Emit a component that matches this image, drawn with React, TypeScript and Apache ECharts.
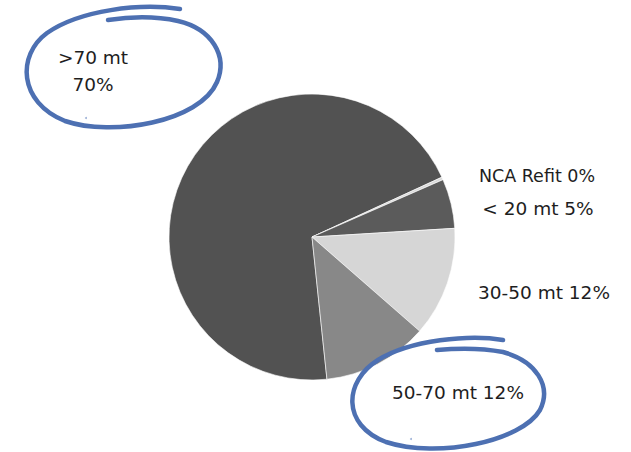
import React, { useEffect, useRef } from "react";
import * as echarts from "echarts";

// Categories in clockwise order starting at the bottom of the pie
const categories = [">70 mt", "NCA Refit", "< 20 mt", "30-50 mt", "50-70 mt"];
// Slice sizes (share of the total, %)
const sliceValues = [69.8, 0.3, 5.6, 12.4, 11.9];
// Percentages as printed on the labels
const labelPercents = [70, 0, 5, 12, 12];
const sliceColors = ["#525252", "#d9d9d9", "#5b5b5b", "#d6d6d6", "#888888"];

const circleTopLeft =
  "M 180 9 C 140 3, 80 10, 47 33 C 17 55, 18 102, 65 121 C 112 137, 200 122, 217 82 C 228 56, 212 29, 178 21 C 155 16, 128 17, 108 20";
const circleBottom =
  "M 503 340 C 470 334, 410 340, 378 360 C 344 381, 341 425, 386 442 C 438 459, 522 441, 540 410 C 552 386, 536 361, 503 352 C 482 348, 458 348, 437 350";

echarts.graphic.registerShape("scribbleA", echarts.graphic.extendPath(circleTopLeft, {}));
echarts.graphic.registerShape("scribbleB", echarts.graphic.extendPath(circleBottom, {}));

const labelPos: [number, number][] = [
  [93, 71],
  [537, 176],
  [538, 208],
  [544, 292],
  [458, 392],
];

export default function App() {
  const ref = useRef<HTMLDivElement>(null);
  useEffect(() => {
    if (!ref.current) return;
    const chart = echarts.init(ref.current, undefined, { renderer: "svg" });
    const blue = "#4d70b2";
    chart.setOption({
      animation: false,
      backgroundColor: "#ffffff",
      series: [
        {
          type: "pie",
          center: [312, 237],
          radius: 143,
          startAngle: -84,
          clockwise: true,
          avoidLabelOverlap: false,
          emphasis: { disabled: true },
          itemStyle: { borderColor: "#ffffff", borderWidth: 0.6 },
          label: {
            show: true,
            position: "outside",
            fontFamily: "DejaVu Sans",
            fontSize: 18.5,
            color: "#1e1e1e",
            lineHeight: 27,
            align: "center",
            formatter: (p: any) => {
              const i = p.dataIndex;
              if (i === 0) return `${categories[i]}\n${labelPercents[i]}%`;
              if (i === 1) return `{s|${categories[i]} ${labelPercents[i]}%}`;
              return `${categories[i]} ${labelPercents[i]}%`;
            },
            rich: {
              s: { fontFamily: "DejaVu Sans", fontSize: 17.5, color: "#1e1e1e" },
            },
          },
          labelLine: { show: false },
          labelLayout: (p: any) => ({
            x: labelPos[p.dataIndex][0],
            y: labelPos[p.dataIndex][1],
            align: "center",
            verticalAlign: "middle",
            hideOverlap: false,
          }),
          data: categories.map((c, i) => ({
            name: c,
            value: sliceValues[i],
            itemStyle: { color: sliceColors[i] },
          })),
        },
      ],
      graphic: [
        {
          type: "scribbleA",
          x: 0,
          y: 0,
          silent: true,
          z: 10,
          style: { fill: "none", stroke: blue, lineWidth: 4.5, lineCap: "round", lineJoin: "round" },
        },
        {
          type: "scribbleB",
          x: 0,
          y: 0,
          silent: true,
          z: 10,
          style: { fill: "none", stroke: blue, lineWidth: 4.5, lineCap: "round", lineJoin: "round" },
        },
        { type: "circle", shape: { cx: 86, cy: 118, r: 1 }, style: { fill: "#9fb3d8" }, silent: true },
        { type: "circle", shape: { cx: 411, cy: 439, r: 1 }, style: { fill: "#9fb3d8" }, silent: true },
      ],
    });
    return () => chart.dispose();
  }, []);
  return (
    <div
      ref={ref}
      style={{ position: "fixed", left: 0, top: 0, width: 631, height: 452 }}
    />
  );
}
